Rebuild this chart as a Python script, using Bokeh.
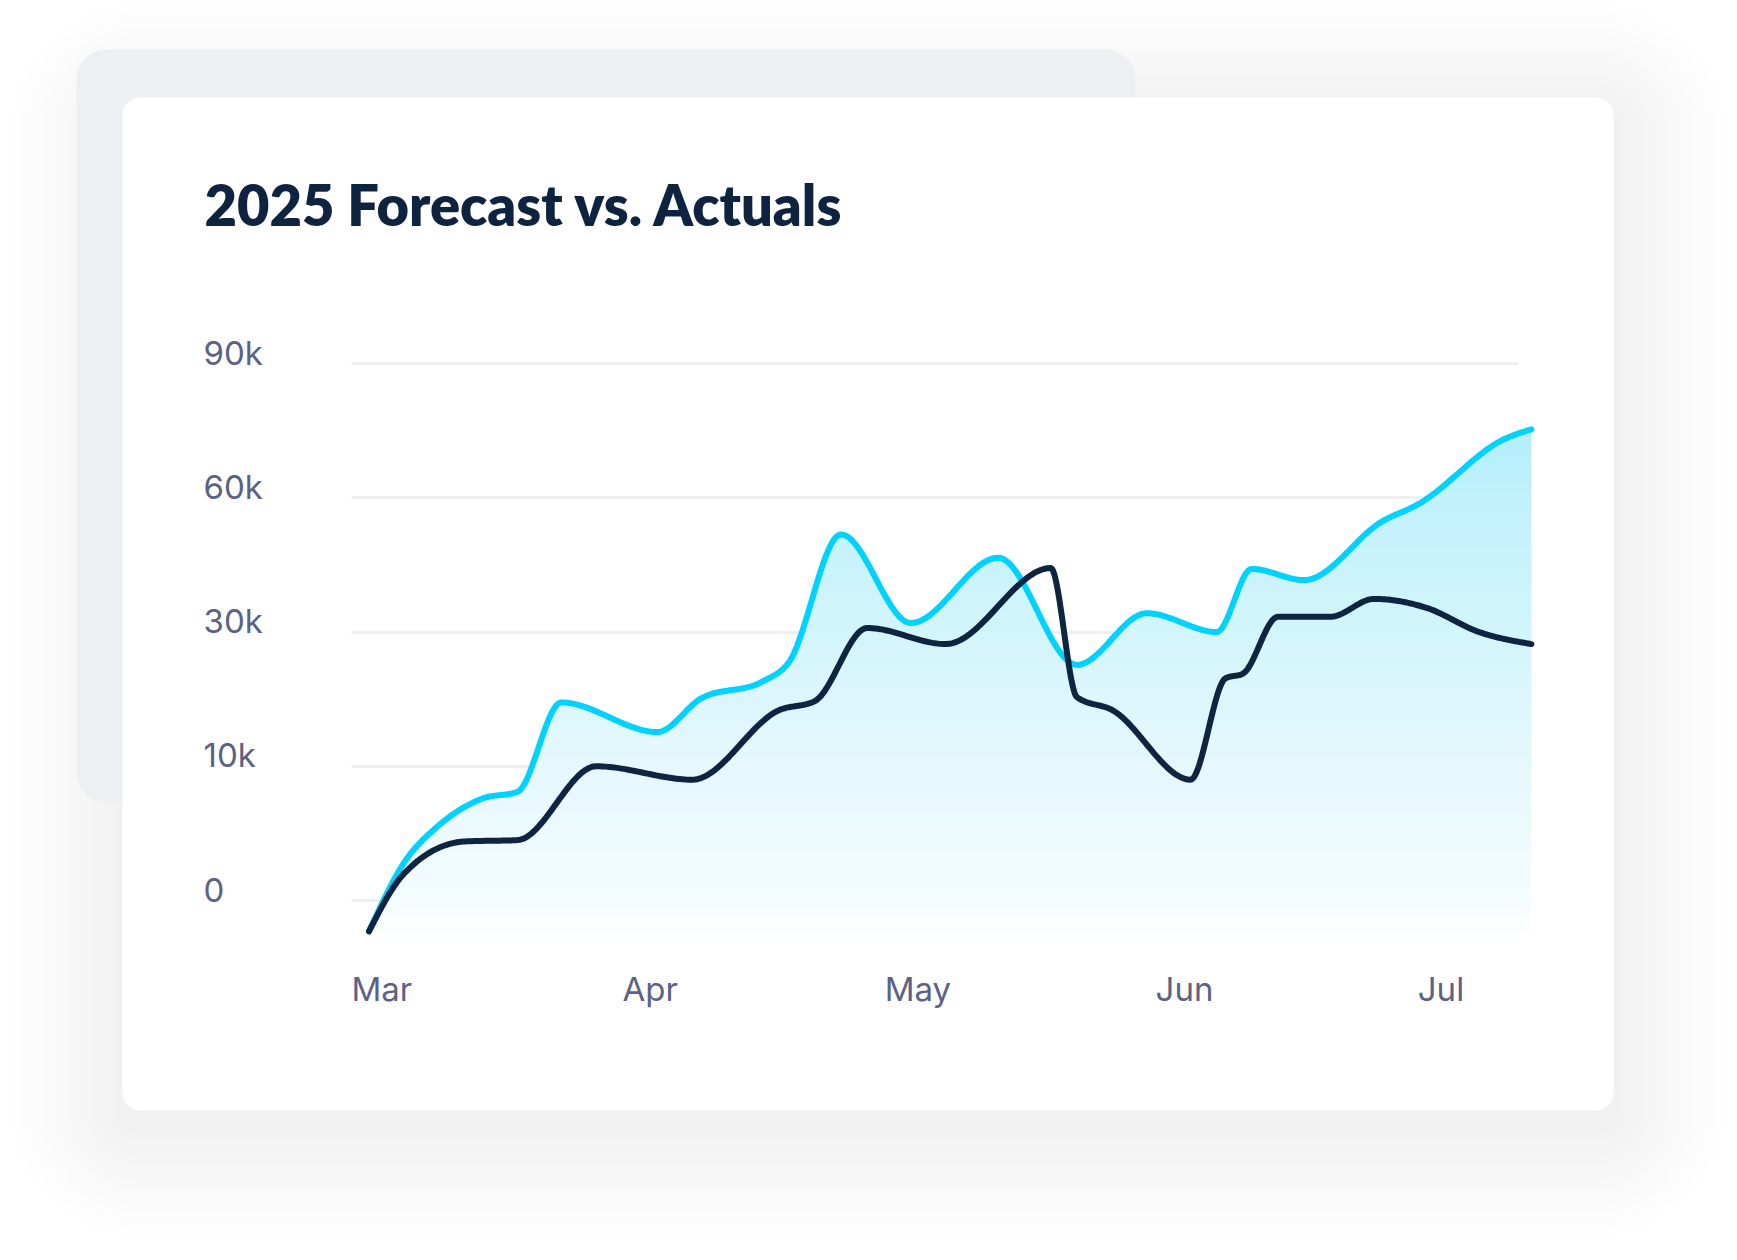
import numpy as np
import pandas as pd
from bokeh.plotting import figure
from bokeh.models import Range1d, BoxAnnotation, FixedTicker, Grid
from bokeh.core.properties import value
from bokeh.embed import file_html
from bokeh.resources import INLINE

# ---------------- data ----------------
title_text = "2025 Forecast vs. Actuals"

forecast_dates = ["2025-03-03", "2025-03-07", "2025-03-11", "2025-03-16", "2025-03-20",
                  "2025-03-25", "2025-04-05", "2025-04-10", "2025-04-17", "2025-04-20",
                  "2025-04-26", "2025-05-04", "2025-05-14", "2025-05-23", "2025-05-31",
                  "2025-06-08", "2025-06-12", "2025-06-18", "2025-06-27", "2025-07-01",
                  "2025-07-11", "2025-07-14"]
forecast_values = [-2300, 2800, 5600, 7600, 8100,
                   19500, 15100, 20100, 22600, 25400,
                   51800, 32000, 46600, 25100, 34200,
                   30000, 44100, 41600, 54800, 58500,
                   73200, 75300]

actual_dates = ["2025-03-03", "2025-03-07", "2025-03-14", "2025-03-20", "2025-03-29",
                "2025-04-09", "2025-04-19", "2025-04-23", "2025-04-29", "2025-05-08",
                "2025-05-20", "2025-05-23", "2025-05-27", "2025-06-05", "2025-06-09",
                "2025-06-11", "2025-06-15", "2025-06-21", "2025-06-26", "2025-07-02",
                "2025-07-08", "2025-07-14"]
actual_values = [-2300, 2000, 4400, 4500, 10000,
                 9000, 18400, 19700, 30900, 28200,
                 44300, 20300, 18400, 9000, 23100,
                 23800, 33400, 33400, 37400, 35400,
                 30000, 28200]

y_tick_values = [0, 10000, 30000, 60000, 90000]
y_tick_labels = ["0", "10k", "30k", "60k", "90k"]
month_ticks = ["2025-03-01", "2025-04-01", "2025-05-01", "2025-06-01", "2025-07-01"]
month_labels = ["Mar", "Apr", "May", "Jun", "Jul"]

# ---------------- helpers ----------------
DAY_MS = 86400000.0
T0 = pd.Timestamp("2025-03-01").value / 1e6   # ms
X0_PX, PX_PER_DAY = 351.0, 8.74
Y0_PX, PX_PER_UNIT = 900.0, 134.25
W, H = 1737, 1260

def ms(d):
    return pd.Timestamp(d).value / 1e6

def px_to_x(cx):
    return T0 + (cx - X0_PX) / PX_PER_DAY * DAY_MS

def px_to_y(cy):
    return (Y0_PX - cy) / PX_PER_UNIT

y_positions = list(range(len(y_tick_values)))

def to_pos(v):
    v = np.asarray(v, float)
    return np.where(v < 0, v / y_tick_values[1], np.interp(v, y_tick_values, y_positions))

def monotone(xk, yk, n=30):
    xk = np.asarray(xk, float); yk = np.asarray(yk, float)
    h = np.diff(xk); s = np.diff(yk) / h
    m = len(xk)
    t = np.zeros(m)
    for i in range(1, m - 1):
        h0, h1, s0, s1 = h[i-1], h[i], s[i-1], s[i]
        p_ = (s0 * h1 + s1 * h0) / (h0 + h1)
        t[i] = (np.sign(s0) + np.sign(s1)) * min(abs(s0), abs(s1), 0.5 * abs(p_))
    t[0] = (3 * s[0] - t[1]) / 2
    t[-1] = (3 * s[-1] - t[-2]) / 2
    xs, ys = [], []
    for i in range(m - 1):
        u = np.linspace(0, 1, n, endpoint=(i == m - 2))
        h00 = 2*u**3 - 3*u**2 + 1; h10 = u**3 - 2*u**2 + u
        h01 = -2*u**3 + 3*u**2; h11 = u**3 - u**2
        xs.append(xk[i] + u * h[i])
        ys.append(h00*yk[i] + h10*h[i]*t[i] + h01*yk[i+1] + h11*h[i]*t[i+1])
    return np.concatenate(xs), np.concatenate(ys)

def days(dates):
    return np.array([(ms(d) - T0) / DAY_MS for d in dates])

fx_d, fy_p = monotone(days(forecast_dates), to_pos(forecast_values))
ax_d, ay_p = monotone(days(actual_dates), to_pos(actual_values))
fx = T0 + fx_d * DAY_MS
axx = T0 + ax_d * DAY_MS

# ---------------- figure ----------------
p = figure(width=W, height=H, output_backend="svg", toolbar_location=None,
           x_axis_location=None, y_axis_location=None, min_border=0,
           x_range=Range1d(px_to_x(0), px_to_x(W)),
           y_range=Range1d(px_to_y(H), px_to_y(0)))
p.outline_line_color = None
p.background_fill_color = "white"
p.border_fill_color = "white"
p.grid.visible = False

# soft shadow of the white card
card = dict(l=122, r=1613, t=97, b=1110)
n_sh = 14
for i in range(n_sh):
    e = 6 + i * 8
    dy = 16
    p.add_layout(BoxAnnotation(left=px_to_x(card["l"] - e), right=px_to_x(card["r"] + e),
                               top=px_to_y(card["t"] - e + dy), bottom=px_to_y(card["b"] + e + dy),
                               fill_color="#59607e", fill_alpha=0.0038, line_color=None,
                               border_radius=18 + e, level="underlay"))
# grey card behind
p.add_layout(BoxAnnotation(left=px_to_x(76), right=px_to_x(1135), top=px_to_y(49), bottom=px_to_y(802),
                           fill_color="#eeeff2", fill_alpha=1, line_color=None,
                           border_radius=30, level="underlay"))
# white card
p.add_layout(BoxAnnotation(left=px_to_x(card["l"]), right=px_to_x(card["r"]),
                           top=px_to_y(card["t"]), bottom=px_to_y(card["b"]),
                           fill_color="white", fill_alpha=1, line_color=None,
                           border_radius=18, level="underlay"))

# grid
grid = Grid(dimension=1, ticker=FixedTicker(ticks=y_positions),
            cross_bounds=(T0, px_to_x(1518)),
            grid_line_color="#efeff2", grid_line_width=3)
p.add_layout(grid)

# vertical gradient fill under the forecast (opaque bands)
p_bot, p_top, n_b = -0.25, 3.6, 56
edges = np.linspace(p_bot, p_top, n_b + 1)
stop_pos = [-0.25, 0.0, 1.0, 2.0, 3.0, 3.6]
stop_rgb = np.array([[255, 255, 255], [244, 252, 254], [229, 248, 253],
                     [211, 245, 252], [192, 241, 252], [176, 238, 251]], float)
for k in range(n_b):
    mid = 0.5 * (edges[k] + edges[k + 1])
    c = [int(round(np.interp(mid, stop_pos, stop_rgb[:, j]))) for j in range(3)]
    col = "#%02x%02x%02x" % tuple(c)
    y1 = np.minimum(fy_p, edges[k])
    y2 = np.minimum(fy_p, edges[k + 1] + 0.012)
    p.varea(x=fx, y1=y1, y2=y2, fill_color=col)

p.line(fx, fy_p, line_color="#00d2ff", line_width=6, line_cap="round", line_join="round")
p.line(axx, ay_p, line_color="#0e2441", line_width=6, line_cap="round", line_join="round")

# tick labels (left-aligned, as in the design)
label_color = "#5c6185"
TXT_SHIFT = 14 / PX_PER_UNIT   # svg baseline compensation
p.text(x=[px_to_x(203)] * len(y_positions), y=np.array(y_positions) - 3 / PX_PER_UNIT + TXT_SHIFT,
       text=y_tick_labels, text_font=value("Inter"), text_font_size="33px",
       text_color=label_color, text_align="left", text_baseline="alphabetic")
p.text(x=[ms(d) for d in month_ticks], y=[px_to_y(1002 - 14)] * len(month_ticks),
       text=month_labels, text_font=value("Inter"), text_font_size="33px",
       text_color=label_color, text_align="left", text_baseline="alphabetic")

# title
p.text(x=[px_to_x(204)], y=[px_to_y(226 - 22)], text=[title_text],
       text_font=value("Lato ExtraBold, Lato Heavy, Lato Black, Lato"), text_font_style="bold",
       text_font_size="56px", text_color="#0d2340", text_align="left", text_baseline="alphabetic")

open("out.html", "w").write(file_html(p, INLINE))
